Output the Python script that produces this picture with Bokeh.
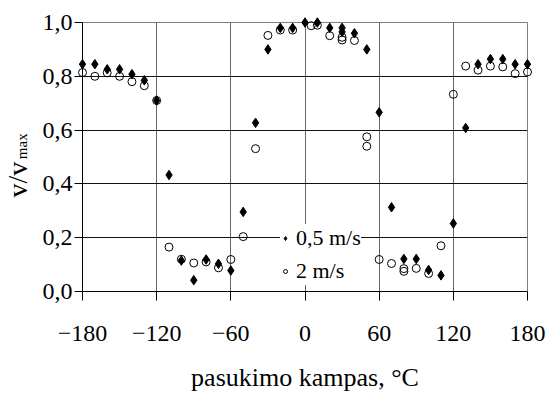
from bokeh.plotting import figure
from bokeh.models import (Range1d, FixedTicker, CustomJSTickFormatter, Legend, LegendItem)
from bokeh.core.properties import value
from bokeh.embed import file_html
from bokeh.resources import INLINE
import math

# ---- data ----
x_ticks = [-180, -120, -60, 0, 60, 120, 180]
y_ticks = [0.0, 0.2, 0.4, 0.6, 0.8, 1.0]

angle_05 = [-180, -170, -160, -150, -140, -130, -120, -110, -100, -90, -80, -70, -60, -50, -40, -30, -20, -10,
            0, 10, 20, 30, 30, 40, 50, 60, 70, 80, 90, 100, 110, 120, 130, 140, 150, 160, 170, 180]
v_05 = [0.845, 0.845, 0.826, 0.826, 0.808, 0.785, 0.71, 0.433, 0.115, 0.042, 0.119, 0.103, 0.078, 0.296, 0.627, 0.90, 0.98, 0.98,
        1.0, 1.0, 0.98, 0.98, 0.965, 0.96, 0.90, 0.666, 0.313, 0.121, 0.121, 0.080, 0.060, 0.253, 0.608, 0.845, 0.864, 0.864, 0.845, 0.845]

angle_2 = [-180, -170, -160, -150, -140, -130, -120, -110, -100, -90, -80, -70, -60, -50, -40, -30, -20, -10,
           5, 10, 20, 30, 30, 40, 50, 50, 60, 70, 80, 80, 90, 100, 110, 120, 130, 140, 150, 160, 170, 180]
v_2 = [0.814, 0.80, 0.813, 0.80, 0.78, 0.765, 0.71, 0.165, 0.12, 0.106, 0.11, 0.088, 0.119, 0.204, 0.531, 0.952, 0.972, 0.972,
       0.988, 0.99, 0.951, 0.945, 0.935, 0.933, 0.575, 0.54, 0.119, 0.104, 0.085, 0.075, 0.086, 0.067, 0.17, 0.733, 0.838, 0.823, 0.838, 0.835, 0.81, 0.816]

series_labels = ["0,5 m/s", "2 m/s"]
x_title = "pasukimo kampas, \u00b0C"
y_title_main = "v/v"
y_title_sub = "max"

FONT = "Liberation Serif"

p = figure(width=552, height=394, output_backend="svg", toolbar_location=None,
           x_range=Range1d(-180, 180), y_range=Range1d(0, 1),
           min_border_left=82, min_border_right=25, min_border_top=22, min_border_bottom=100)

p.background_fill_color = "white"
p.border_fill_color = "white"
p.outline_line_color = "#808080"
p.outline_line_width = 1

# axes
for ax in (p.xaxis[0], p.yaxis[0]):
    ax.axis_line_color = "black"
    ax.major_tick_line_color = "black"
    ax.minor_tick_line_color = None
    ax.major_tick_in = 0
    ax.major_label_text_font = FONT
    ax.major_label_text_font_size = "24px"
    ax.major_label_text_color = "black"

p.xaxis.ticker = FixedTicker(ticks=x_ticks)
p.yaxis.ticker = FixedTicker(ticks=y_ticks)
p.xaxis.formatter = CustomJSTickFormatter(code="return tick < 0 ? '\\u2212' + Math.abs(tick) : String(tick);")
p.yaxis.formatter = CustomJSTickFormatter(code="return tick.toFixed(1).replace('.', ',');")
p.xaxis.major_tick_out = 9
p.yaxis.major_tick_out = 8
p.xaxis.major_label_standoff = 25
p.yaxis.major_label_standoff = 2

p.xaxis.axis_label = x_title
p.xaxis.axis_label_text_font = FONT
p.xaxis.axis_label_text_font_size = "26px"
p.xaxis.axis_label_text_font_style = "normal"
p.xaxis.axis_label_text_color = "black"
p.xaxis.axis_label_standoff = 19

# grid
p.xgrid.ticker = FixedTicker(ticks=x_ticks)
p.ygrid.ticker = FixedTicker(ticks=y_ticks)
p.xgrid.grid_line_color = "#666666"
p.ygrid.grid_line_color = "#111111"
p.xgrid.grid_line_width = 1
p.ygrid.grid_line_width = 1

# data
r2 = p.scatter(angle_2, v_2, marker="circle", size=8, fill_color=None,
               line_color="black", line_width=1, level="overlay")
r05 = p.scatter(angle_05, v_05, marker="diamond", size=9.5, fill_color="black",
                line_color="black", line_width=1, level="overlay")

legend = Legend(items=[LegendItem(label=series_labels[0], renderers=[r05]),
                       LegendItem(label=series_labels[1], renderers=[r2])],
                location=(198, 6), orientation="vertical",
                background_fill_color="white", background_fill_alpha=1.0,
                border_line_color=None, margin=0, padding=5, spacing=5,
                glyph_width=10, glyph_height=28, label_height=28, label_standoff=6,
                label_text_font=FONT, label_text_font_size="22px",
                label_text_color="black")
p.add_layout(legend)

# y-axis title with subscript, drawn as text left of the frame (overlay level is not clipped)
p.text(x=[-232.6], y=[0.349], text=[y_title_main], angle=math.pi / 2,
       text_font=value(FONT), text_font_size="28px", text_color="black",
       text_align="left", text_baseline="alphabetic", level="overlay")
p.text(x=[-228.7], y=[0.492], text=[y_title_sub], angle=math.pi / 2,
       text_font=value(FONT), text_font_size="15px", text_color="black",
       text_align="left", text_baseline="alphabetic", level="overlay")

open("out.html", "w").write(file_html(p, INLINE))
